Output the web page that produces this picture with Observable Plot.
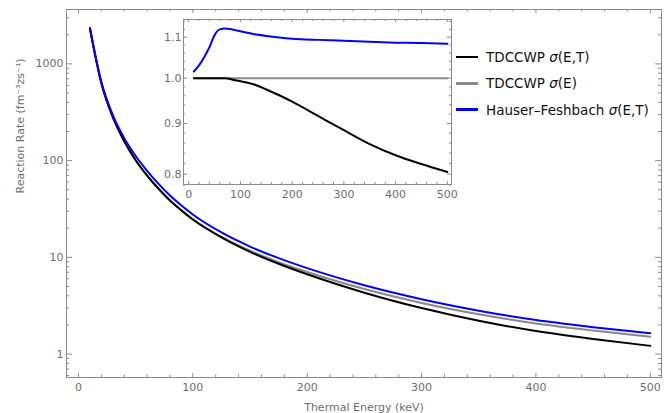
<!DOCTYPE html>
<html><head><meta charset="utf-8">
<script src="https://cdn.jsdelivr.net/npm/d3@7"></script>
<script src="https://cdn.jsdelivr.net/npm/@observablehq/plot@0.6"></script>
<style>
body{margin:0;background:#fff;font-family:"DejaVu Sans",sans-serif;}
#wrap{position:relative;width:672px;height:413px;overflow:hidden;}
#main{position:absolute;left:0;top:0;}
#inset{position:absolute;left:145px;top:10px;}
#legend{position:absolute;left:456px;top:44px;font-size:13.5px;color:#111;}
#legend .row{display:flex;align-items:center;height:26.3px;white-space:nowrap;}
#legend .sw{display:inline-block;width:22px;height:2.5px;margin-right:8px;}
</style></head><body>
<div id="wrap"><div id="main"></div><div id="inset"></div>
<div id="legend">
<div class="row"><span class="sw" style="background:#000"></span>TDCCWP&nbsp;<i>σ</i>(E,T)</div>
<div class="row"><span class="sw" style="background:#888"></span>TDCCWP&nbsp;<i>σ</i>(E)</div>
<div class="row"><span class="sw" style="background:#0000ff"></span>Hauser–Feshbach&nbsp;<i>σ</i>(E,T)</div>
</div></div>
<script>
// ---- data ----
const energy = [10,20,30,40,50,60,70,80,90,100,125,150,175,200,250,300,350,400,450,500];
const rateHF = [2350,649,295,170.4,111.6,78.5,57.4,43.5,34.3,27.7,18.07,12.92,9.81,7.73,5.14,3.69,2.81,2.25,1.90,1.64];
const rateE  = [2314,630,281,158.7,101.0,70.1,51.2,38.8,30.7,24.8,16.31,11.71,8.93,7.05,4.70,3.38,2.58,2.07,1.75,1.514];
const rateET = [2314,630,281,158.7,101.0,70.1,51.17,38.72,30.55,24.63,16.08,11.41,8.58,6.68,4.31,2.99,2.21,1.73,1.433,1.217];
const ratioHF = [1.0155,1.03,1.05,1.074,1.105,1.12,1.122,1.121,1.118,1.115,1.108,1.103,1.099,1.096,1.093,1.091,1.088,1.086,1.085,1.083];
const ratioE  = [1,1,1,1,1,1,1,1,1,1,1,1,1,1,1,1,1,1,1,1];
const ratioET = [1,1,1,1,1,1,0.9995,0.998,0.995,0.993,0.986,0.974,0.961,0.947,0.916,0.886,0.858,0.836,0.819,0.804];

const xMajor = [0,100,200,300,400,500];
const xMinor = [20,40,60,80,120,140,160,180,220,240,260,280,320,340,360,380,420,440,460,480];
const yMajor = [1,10,100,1000];
const yMinor = [0.6,0.7,0.8,0.9,2,3,4,5,6,7,8,9,20,30,40,50,60,70,80,90,200,300,400,500,600,700,800,900,2000,3000];
const inYMajor = [0.8,0.9,1.0,1.1];
const inYMinor = [0.78,0.82,0.84,0.86,0.88,0.92,0.94,0.96,0.98,1.02,1.04,1.06,1.08,1.12,1.14];
const xLabel = "Thermal Energy (keV)";
const yLabel = "Reaction Rate (fm⁻³zs⁻¹)";

const series = [
  {name:"TDCCWP σ(E)", color:"#888888", rate: rateE, ratio: ratioE},
  {name:"TDCCWP σ(E,T)", color:"#000000", rate: rateET, ratio: ratioET},
  {name:"Hauser–Feshbach σ(E,T)", color:"#0000ff", rate: rateHF, ratio: ratioHF}
];

const axisColor = "#8a8a8a";
const textColor = "#6e6e6e";

function tickMarks(xs, ys, innerW, innerH, xLen, yLen) {
  return [
    Plot.tickX(xs, {x: d => d, stroke: axisColor, insetTop: innerH - xLen}),
    Plot.tickX(xs, {x: d => d, stroke: axisColor, insetBottom: innerH - xLen}),
    Plot.tickY(ys, {y: d => d, stroke: axisColor, insetRight: innerW - yLen}),
    Plot.tickY(ys, {y: d => d, stroke: axisColor, insetLeft: innerW - yLen})
  ];
}

// ---- main plot ----
{
  const W = 672, H = 413, mL = 66, mR = 11, mT = 9, mB = 36;
  const iW = W - mL - mR, iH = H - mT - mB;
  const lines = series.map(s => Plot.line(energy.map((e, i) => ({e, v: s.rate[i]})),
    {x: "e", y: "v", stroke: s.color, strokeWidth: 2, curve: "monotone-x"}));
  const chart = Plot.plot({
    width: W, height: H, marginLeft: mL, marginRight: mR, marginTop: mT, marginBottom: mB,
    style: {fontFamily: "DejaVu Sans", fontSize: "11px", color: textColor, background: "white"},
    x: {domain: [-10.5, 509.8]},
    y: {type: "log", domain: [0.573, 3647]},
    marks: [
      ...tickMarks(xMajor, yMajor, iW, iH, 4, 6),
      ...tickMarks(xMinor, yMinor, iW, iH, 2.5, 3),
      Plot.axisX({ticks: xMajor, tickSize: 0, tickPadding: 6, label: null, tickFormat: d => String(d)}),
      Plot.axisY({ticks: yMajor, tickSize: 0, tickPadding: 3, label: null, tickFormat: d => String(d)}),
      ...lines,
      Plot.frame({stroke: axisColor}),
      Plot.text([xLabel], {text: d => d, frameAnchor: "bottom", dy: 30, lineAnchor: "middle", fill: textColor, fontSize: 11}),
      Plot.text([yLabel], {text: d => d, frameAnchor: "left", dx: -46, rotate: -90, lineAnchor: "middle", fill: textColor, fontSize: 11})
    ]
  });
  document.getElementById("main").append(chart);
}

// ---- inset plot ----
{
  const W = 322, H = 195, mL = 38, mR = 16, mT = 9, mB = 21;
  const iW = W - mL - mR, iH = H - mT - mB;
  const lines = series.map(s => Plot.line(energy.map((e, i) => ({e, v: s.ratio[i]})),
    {x: "e", y: "v", stroke: s.color, strokeWidth: 2, curve: "monotone-x"}));
  const chart = Plot.plot({
    width: W, height: H, marginLeft: mL, marginRight: mR, marginTop: mT, marginBottom: mB,
    style: {fontFamily: "DejaVu Sans", fontSize: "11px", color: textColor, background: "transparent"},
    x: {domain: [-10, 508]},
    y: {type: "log", domain: [0.781, 1.146]},
    marks: [
      Plot.frame({fill: "white", stroke: "none"}),
      ...tickMarks(xMajor, inYMajor, iW, iH, 3, 4),
      ...tickMarks(xMinor, inYMinor, iW, iH, 2, 2),
      Plot.axisX({ticks: xMajor, tickSize: 0, tickPadding: 6, label: null, tickFormat: d => String(d)}),
      Plot.axisY({ticks: inYMajor, tickSize: 0, tickPadding: 2, label: null, tickFormat: d => d.toFixed(1)}),
      ...lines,
      Plot.frame({stroke: axisColor})
    ]
  });
  document.getElementById("inset").append(chart);
}
</script>
</body></html>
